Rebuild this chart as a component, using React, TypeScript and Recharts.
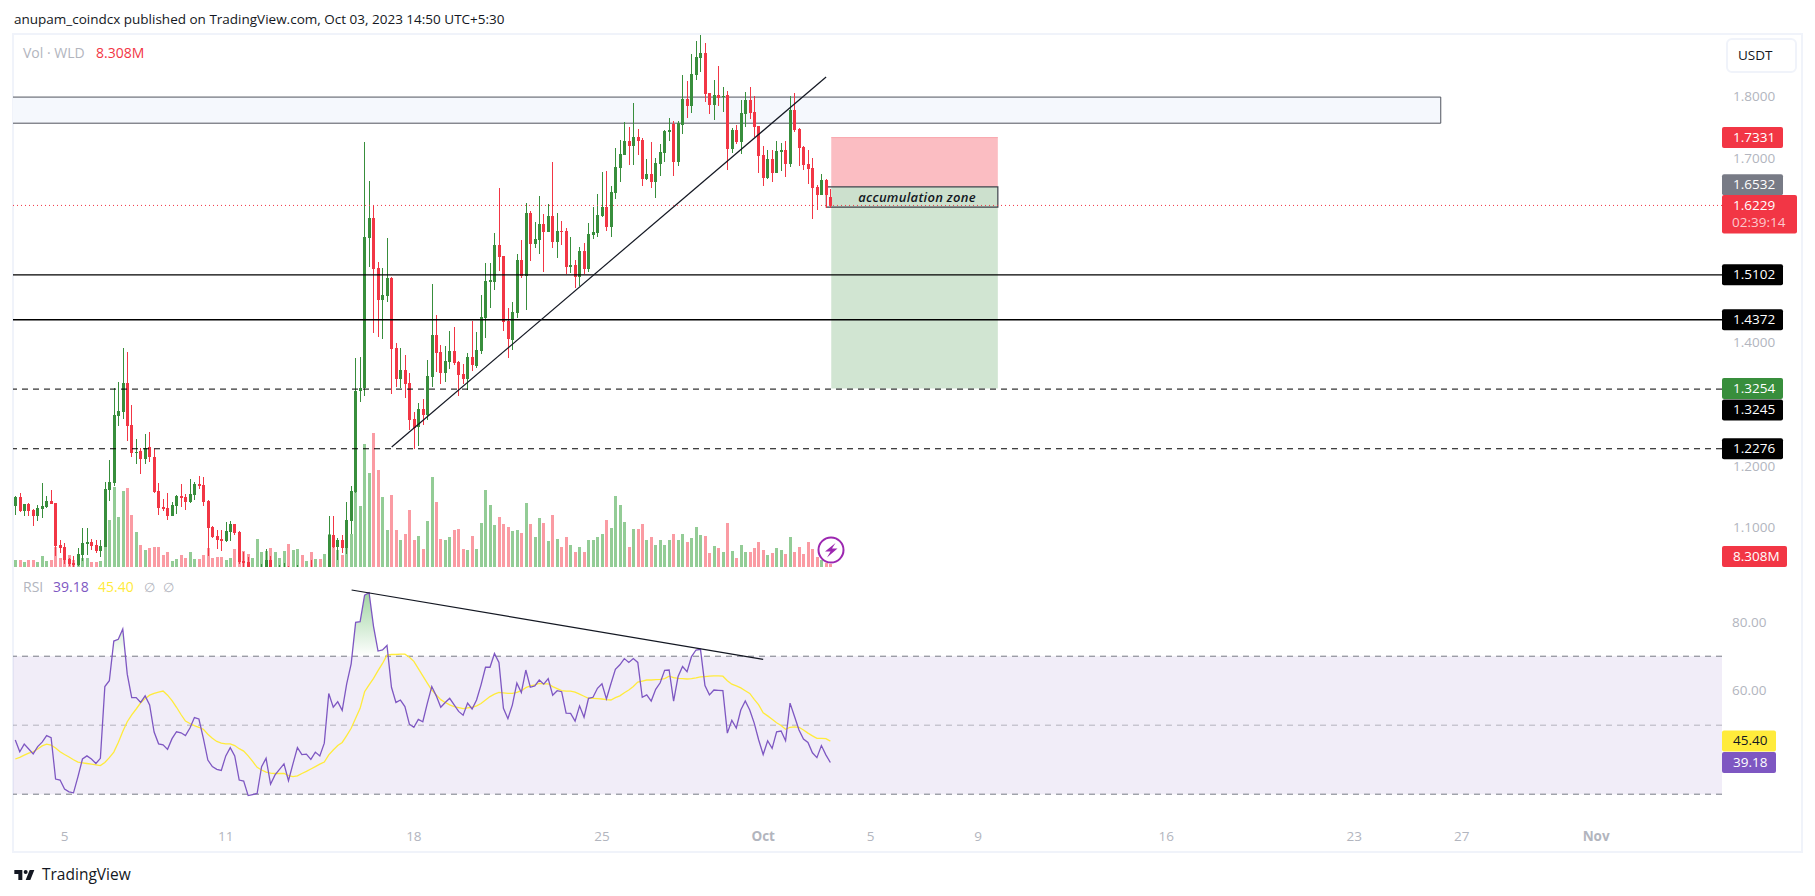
import {
  Area,
  Bar,
  ComposedChart,
  Line,
  ReferenceArea,
  ReferenceLine,
  XAxis,
  YAxis,
} from "recharts";

// 4h candles, WLD/USDT
const opens = [
  1.1347, 1.1487, 1.1265, 1.1379, 1.1282, 1.119, 1.1298, 1.1331, 1.1429, 1.1395, 1.0713, 1.0675, 1.0488, 1.0423, 1.0391, 1.0553, 1.0732, 1.0764, 1.0713, 1.0618,
  1.0686, 1.1609, 1.1716, 1.2815, 1.288, 1.3345, 1.2663, 1.2214, 1.2236, 1.2117, 1.2301, 1.2144, 1.1592, 1.1333, 1.1316, 1.119, 1.1352, 1.1509, 1.1493, 1.1413,
  1.1526, 1.1705, 1.1688, 1.1429, 1.1007, 1.0861, 1.0812, 1.078, 1.0926, 1.1055, 1.0926, 1.0455, 1.0439, 1.02, 1.022, 1.025, 1.029, 1.0471, 1.02, 1.022,
  1.024, 1.03, 1.02, 1.022, 1.03, 1.02, 1.034, 1.02, 1.03, 1.02, 1.034, 1.0877, 1.0682, 1.0796, 1.0666, 1.1104, 1.1574, 1.3207, 1.3261, 1.5707,
  1.6026, 1.5214, 1.47, 1.4765, 1.5052, 1.3916, 1.3413, 1.3559, 1.3348, 1.2764, 1.2639, 1.2926, 1.2823, 1.3445, 1.4127, 1.3851, 1.351, 1.3689, 1.3867, 1.3689,
  1.3494, 1.3413, 1.377, 1.3624, 1.3867, 1.4403, 1.4987, 1.4987, 1.5588, 1.5409, 1.4354, 1.4051, 1.4487, 1.5345, 1.5085, 1.6108, 1.5605, 1.567, 1.5929, 1.5799,
  1.6059, 1.5637, 1.5816, 1.5816, 1.5231, 1.5264, 1.5069, 1.5491, 1.5199, 1.5751, 1.5783, 1.6059, 1.6205, 1.588, 1.6432, 1.6838, 1.7049, 1.7276, 1.7195, 1.7341,
  1.7292, 1.666, 1.6741, 1.6611, 1.6903, 1.7082, 1.7423, 1.7548, 1.6937, 1.7537, 1.7959, 1.7846, 1.8349, 1.8625, 1.8706, 1.8056, 1.7862, 1.8024, 1.7992, 1.8024,
  1.7148, 1.7456, 1.7261, 1.7716, 1.7943, 1.7748, 1.7521, 1.705, 1.6677, 1.6985, 1.6758, 1.7099, 1.7131, 1.6904, 1.7781, 1.7472, 1.718, 1.6904, 1.6839, 1.6531,
  1.6401, 1.6645, 1.6369,
];
const highs = [
  1.1509, 1.1553, 1.1379, 1.139, 1.1298, 1.1363, 1.1716, 1.1509, 1.1607, 1.1395, 1.0795, 1.0746, 1.0499, 1.0537, 1.0661, 1.0991, 1.0991, 1.0813, 1.0795, 1.0795,
  1.1733, 1.2095, 1.3258, 1.3361, 1.3908, 1.3843, 1.2988, 1.2436, 1.2295, 1.2517, 1.255, 1.2274, 1.1716, 1.1463, 1.1553, 1.1406, 1.1525, 1.1704, 1.1542, 1.1786,
  1.1737, 1.1835, 1.1818, 1.1445, 1.1023, 1.0958, 1.0958, 1.1088, 1.1104, 1.1055, 1.0942, 1.0601, 1.052, 1.032, 1.034, 1.0406, 1.065, 1.0536, 1.033, 1.039,
  1.0423, 1.0374, 1.033, 1.039, 1.034, 1.03, 1.0471, 1.033, 1.034, 1.032, 1.1185, 1.1185, 1.0828, 1.0877, 1.1412, 1.1673, 1.3755, 1.3764, 1.7254, 1.6626,
  1.6231, 1.5312, 1.5209, 1.5701, 1.5068, 1.3992, 1.391, 1.3802, 1.351, 1.2877, 1.3023, 1.3083, 1.3721, 1.4955, 1.4451, 1.3965, 1.3948, 1.4192, 1.4262, 1.3705,
  1.3656, 1.3829, 1.4354, 1.4176, 1.4776, 1.5295, 1.5295, 1.5782, 1.6513, 1.5409, 1.4565, 1.466, 1.5443, 1.567, 1.627, 1.614, 1.5962, 1.6384, 1.6092, 1.6254,
  1.6935, 1.6108, 1.5978, 1.5864, 1.5718, 1.5345, 1.5556, 1.5621, 1.5946, 1.6205, 1.6416, 1.6773, 1.6789, 1.6546, 1.7163, 1.7293, 1.7585, 1.7504, 1.7893, 1.7471,
  1.7325, 1.6984, 1.726, 1.7, 1.7228, 1.746, 1.7651, 1.7602, 1.7602, 1.8349, 1.8251, 1.8689, 1.89, 1.8998, 1.8868, 1.8056, 1.8267, 1.8495, 1.8154, 1.8089,
  1.7488, 1.7537, 1.7943, 1.8073, 1.8154, 1.8008, 1.7521, 1.7196, 1.7131, 1.7131, 1.7277, 1.7245, 1.7277, 1.8008, 1.8056, 1.7488, 1.7196, 1.7131, 1.7002, 1.6563,
  1.6742, 1.6661, 1.6498,
];
const lows = [
  1.12, 1.1238, 1.119, 1.1173, 1.1027, 1.1108, 1.1141, 1.1309, 1.1379, 1.0526, 1.0578, 1.0404, 1.0364, 1.0364, 1.0364, 1.0461, 1.0553, 1.0634, 1.0591, 1.0526,
  1.0675, 1.143, 1.1662, 1.2647, 1.2755, 1.2393, 1.2138, 1.203, 1.1868, 1.203, 1.2068, 1.1565, 1.12, 1.1273, 1.1122, 1.119, 1.1217, 1.1338, 1.1283, 1.1396,
  1.1445, 1.1623, 1.1347, 1.0536, 1.0828, 1.065, 1.0617, 1.0763, 1.078, 1.0877, 1.0406, 1.036, 1.0357, 1.012, 1.015, 1.018, 1.02, 1.018, 1.015, 1.016,
  1.018, 1.02, 1.012, 1.015, 1.016, 1.012, 1.02, 1.014, 1.016, 1.012, 1.03, 1.0666, 1.0471, 1.0585, 1.0569, 1.0891, 1.1555, 1.3029, 1.3126, 1.5236,
  1.4154, 1.41, 1.4057, 1.4668, 1.3169, 1.3272, 1.3267, 1.3104, 1.2585, 1.2271, 1.2325, 1.2666, 1.2747, 1.3283, 1.3526, 1.3332, 1.3364, 1.3575, 1.364, 1.3137,
  1.3332, 1.3234, 1.3542, 1.3591, 1.3818, 1.4078, 1.4565, 1.4857, 1.5166, 1.4192, 1.376, 1.388, 1.44, 1.5053, 1.4531, 1.5329, 1.554, 1.5442, 1.515, 1.5799,
  1.554, 1.5377, 1.5588, 1.5118, 1.5134, 1.489, 1.4923, 1.5118, 1.515, 1.5686, 1.5718, 1.6043, 1.5816, 1.5718, 1.6335, 1.6611, 1.7049, 1.6887, 1.6887, 1.7049,
  1.6546, 1.6643, 1.6513, 1.6351, 1.6708, 1.6935, 1.7277, 1.6709, 1.6872, 1.7391, 1.7651, 1.7732, 1.8267, 1.8397, 1.7911, 1.7716, 1.7618, 1.7846, 1.7748, 1.6807,
  1.7083, 1.7229, 1.7066, 1.7505, 1.7635, 1.7342, 1.6758, 1.6547, 1.6661, 1.6612, 1.6758, 1.679, 1.6693, 1.6855, 1.7423, 1.6872, 1.6807, 1.658, 1.6012, 1.6158,
  1.6401, 1.619, 1.619,
];
const closes = [
  1.1487, 1.1265, 1.1379, 1.126, 1.119, 1.1314, 1.1347, 1.1423, 1.1379, 1.0697, 1.0664, 1.047, 1.0402, 1.0391, 1.0569, 1.0742, 1.0764, 1.0697, 1.0622, 1.0697,
  1.1625, 1.1733, 1.2825, 1.289, 1.3345, 1.2647, 1.2214, 1.2225, 1.2112, 1.229, 1.2134, 1.1576, 1.1322, 1.13, 1.1187, 1.1363, 1.1509, 1.1477, 1.1413, 1.1542,
  1.1705, 1.1672, 1.1413, 1.0991, 1.0844, 1.0796, 1.078, 1.0942, 1.1055, 1.0909, 1.0439, 1.0423, 1.0357, 1.028, 1.033, 1.033, 1.0471, 1.028, 1.03, 1.033,
  1.034, 1.024, 1.03, 1.033, 1.022, 1.024, 1.024, 1.03, 1.024, 1.03, 1.0877, 1.0682, 1.0796, 1.0666, 1.112, 1.1587, 1.3215, 1.3261, 1.5717, 1.6026,
  1.5198, 1.47, 1.4776, 1.5052, 1.3905, 1.3418, 1.3559, 1.3332, 1.2747, 1.2612, 1.2926, 1.2828, 1.3461, 1.4127, 1.3835, 1.351, 1.3705, 1.3867, 1.3672, 1.3478,
  1.3413, 1.377, 1.364, 1.3883, 1.4419, 1.5003, 1.5019, 1.5588, 1.5393, 1.4338, 1.4062, 1.4498, 1.5343, 1.5085, 1.6108, 1.5605, 1.5686, 1.5929, 1.5799, 1.6059,
  1.5637, 1.5816, 1.5799, 1.5231, 1.5264, 1.5069, 1.5491, 1.5199, 1.5767, 1.5799, 1.6075, 1.6205, 1.588, 1.6449, 1.6854, 1.7065, 1.7276, 1.7195, 1.7341, 1.7276,
  1.666, 1.6741, 1.6611, 1.6919, 1.7098, 1.7439, 1.7456, 1.6937, 1.757, 1.7959, 1.7846, 1.8365, 1.8641, 1.8706, 1.804, 1.7862, 1.8024, 1.7975, 1.8008, 1.7148,
  1.7456, 1.7261, 1.7732, 1.7943, 1.7732, 1.7505, 1.7034, 1.6677, 1.6985, 1.6758, 1.7115, 1.7131, 1.6904, 1.7781, 1.7456, 1.7164, 1.6888, 1.6823, 1.6515, 1.6401,
  1.6645, 1.6401, 1.6229,
];
// volume in millions
const volumes = [
  20, 20, 15, 20, 20, 15, 31, 18, 20, 56, 26, 28, 34, 20, 6, 25, 26, 15, 15, 18,
  67, 131, 222, 139, 211, 220, 145, 98, 62, 48, 54, 56, 56, 34, 42, 18, 23, 34, 25, 42,
  22, 22, 33, 53, 25, 28, 28, 19, 25, 50, 61, 44, 36, 25, 78, 42, 44, 53, 42, 25,
  44, 64, 47, 50, 33, 17, 42, 22, 22, 36, 91, 61, 47, 33, 97, 91, 300, 170, 340, 260,
  370, 270, 195, 103, 200, 103, 76, 91, 158, 75, 86, 50, 128, 250, 180, 78, 75, 83, 103, 106,
  51, 48, 86, 51, 123, 214, 172, 117, 139, 120, 111, 100, 103, 93, 178, 120, 83, 137, 123, 73,
  143, 77, 56, 82, 62, 42, 56, 42, 74, 76, 84, 92, 129, 107, 196, 171, 124, 56, 104, 104,
  118, 76, 84, 62, 74, 62, 76, 92, 74, 92, 68, 79, 110, 90, 87, 40, 59, 54, 42, 121,
  45, 26, 62, 42, 42, 54, 68, 48, 34, 40, 54, 46, 37, 84, 42, 56, 37, 68, 50, 28,
  20, 12, 8.308,
];
const rsiValues = [
  45.7, 42.3, 44.5, 43.1, 41.7, 43.8, 45.1, 47.0, 46.4, 34.4, 34.1, 31.5, 30.7, 30.4, 35.1, 40.2, 41.1, 40.2, 38.9, 40.4,
  61.2, 62.9, 74.4, 74.9, 77.9, 64.8, 58.0, 58.0, 56.6, 58.5, 55.9, 48.0, 44.6, 44.3, 43.0, 46.1, 48.1, 47.8, 47.0, 49.2,
  52.2, 51.8, 46.2, 39.9, 38.0, 37.2, 36.9, 41.1, 43.5, 41.1, 34.1, 33.8, 29.6, 29.9, 30.2, 38.0, 40.4, 32.9, 35.6, 37.2,
  38.8, 33.9, 38.8, 43.5, 41.5, 41.6, 40.1, 42.2, 41.1, 44.8, 59.2, 55.2, 56.8, 54.3, 62.0, 67.8, 79.8, 80.0, 87.7, 88.4,
  78.6, 71.5, 71.8, 73.1, 61.0, 56.6, 57.3, 55.4, 50.3, 49.4, 51.7, 51.0, 56.3, 61.2, 58.5, 55.2, 56.6, 57.8, 55.9, 54.0,
  52.9, 56.4, 54.7, 57.3, 61.7, 66.8, 66.8, 70.8, 68.2, 54.9, 51.9, 55.9, 62.2, 59.5, 66.0, 61.0, 61.4, 63.1, 61.9, 63.5,
  58.7, 60.0, 59.7, 53.5, 53.4, 51.2, 55.6, 52.3, 57.8, 58.1, 60.7, 62.0, 57.6, 62.0, 66.2, 67.5, 69.3, 68.2, 69.3, 68.2,
  58.1, 58.8, 57.0, 60.4, 62.3, 65.9, 66.0, 57.0, 64.1, 67.0, 65.5, 69.9, 71.8, 72.0, 61.5, 58.8, 60.2, 60.1, 60.0, 47.7,
  51.4, 49.2, 54.4, 57.0, 54.4, 50.6, 45.7, 41.5, 45.5, 43.3, 48.1, 48.3, 45.5, 56.4, 52.5, 48.6, 46.0, 45.0, 42.0, 40.6,
  44.1, 41.4, 39.18,
];
const rsiMaValues = [
  40.2, 40.7, 41.3, 41.9, 42.3, 43.1, 44.0, 44.5, 44.2, 43.4, 42.3, 41.5, 40.8, 40.0, 39.3, 39.1, 38.9, 38.7, 38.5, 38.3,
  39.2, 40.6, 42.2, 45.0, 48.2, 51.0, 53.0, 54.7, 56.5, 57.7, 58.7, 59.2, 59.6, 59.9, 58.7, 57.1, 55.2, 53.1, 51.2, 50.5,
  49.9, 49.4, 48.8, 47.4, 46.2, 45.3, 44.8, 44.6, 44.6, 44.1, 43.2, 42.5, 41.1, 39.5, 37.8, 37.0, 36.4, 36.1, 36.0, 36.0,
  36.0, 35.4, 35.1, 35.3, 36.0, 36.6, 37.3, 38.0, 38.7, 39.3, 41.4, 42.8, 44.1, 45.0, 47.0, 49.1, 52.0, 54.9, 59.7, 61.7,
  63.6, 65.8, 67.9, 70.3, 70.5, 70.5, 70.6, 70.6, 69.7, 68.5, 66.4, 64.3, 62.2, 60.2, 58.8, 57.4, 56.6, 55.9, 55.4, 55.1,
  54.8, 55.0, 55.2, 55.6, 56.3, 57.3, 58.3, 59.0, 59.5, 59.4, 59.2, 59.2, 59.5, 60.0, 60.9, 61.4, 61.7, 62.1, 62.0, 62.0,
  61.2, 60.6, 60.0, 59.9, 59.9, 59.6, 59.0, 58.4, 57.8, 57.8, 57.7, 57.6, 57.4, 57.3, 58.0, 58.5, 59.4, 60.2, 61.2, 62.5,
  62.8, 63.1, 63.1, 63.2, 63.3, 63.5, 64.2, 63.8, 63.6, 63.5, 63.4, 63.5, 63.7, 64.0, 64.1, 64.2, 64.3, 64.3, 64.2, 62.9,
  61.9, 61.4, 60.8, 60.0, 59.2, 57.5, 55.9, 53.6, 52.7, 51.7, 50.7, 49.9, 48.8, 49.4, 49.5, 49.4, 48.6, 47.7, 46.9, 46.2,
  46.2, 46.1, 45.4,
];

const dateTicks = [11, 47, 89, 131, 167, 191, 215, 257, 299, 323, 353];
const dateLabels = ["5", "11", "18", "25", "Oct", "5", "9", "16", "23", "27", "Nov"];
const priceTicks = [1.8, 1.7, 1.4, 1.2, 1.1];
const rsiTicks = [80, 60];

const candles = opens.map((open, i) => ({
  i,
  open,
  high: highs[i],
  low: lows[i],
  close: closes[i],
  volume: volumes[i],
  rsi: rsiValues[i],
  rsiMa: rsiMaValues[i],
}));

const FONT = '"Open Sans", sans-serif';
const xDomain = [-0.51, 381.1];
const GREEN = "#388e3c";
const RED = "#f23645";
const AXIS_TEXT = "#b2b5be";
const TICK_FONT = 13.5;

const Candle = (props: any) => {
  const { x, y, width, height, payload } = props;
  const range = payload.high - payload.low;
  const k = range > 0 ? height / range : 0;
  const color = payload.close >= payload.open ? GREEN : RED;
  const top = Math.round(y + (payload.high - Math.max(payload.open, payload.close)) * k);
  const bodyH = Math.max(Math.round(Math.abs(payload.open - payload.close) * k), 1);
  const cx = Math.floor(x + width / 2);
  return (
    <g>
      <rect x={cx} y={Math.round(y)} width={1} height={Math.round(height)} fill={color} />
      <rect x={cx - 1} y={top} width={3} height={bodyH} fill={color} />
    </g>
  );
};

const VolumeBar = (props: any) => {
  const { x, y, width, height, payload } = props;
  const cx = Math.floor(x + width / 2);
  return (
    <rect
      x={cx - 1}
      y={Math.round(y)}
      width={3}
      height={Math.round(height)}
      fill={payload.close >= payload.open ? "#93cc96" : "#fa9ba3"}
    />
  );
};

const Badge = ({ viewBox, text, sub, fill, color = "#fff", w = 61, dy = 0 }: any) => {
  const x = viewBox.x + viewBox.width;
  const h = sub ? 38.5 : 21;
  const cy = viewBox.y + dy;
  const top = sub ? cy - 10.5 : cy - h / 2;
  return (
    <g fontFamily={FONT} fontSize={TICK_FONT}>
      <rect x={x} y={top} width={w} height={h} rx={2} fill={fill} />
      <text x={x + 11} y={cy + 0.5} fill={color} dominantBaseline="middle">
        {text}
      </text>
      {sub && (
        <text x={x + 10} y={cy + 18} fill="#fcc8cd" dominantBaseline="middle">
          {sub}
        </text>
      )}
    </g>
  );
};

const ZoneLabel = ({ viewBox }: any) => (
  <text
    x={viewBox.x + viewBox.width / 2 + 5}
    y={viewBox.y + viewBox.height / 2 + 2}
    fill="#131722"
    fontFamily={FONT}
    fontSize={13}
    fontStyle="italic"
    fontWeight={600}
    letterSpacing={0.3}
    textAnchor="middle"
    dominantBaseline="middle"
  >
    accumulation zone
  </text>
);

const DateTick = ({ x, y, payload }: any) => {
  const label = dateLabels[dateTicks.indexOf(payload.value)];
  return (
    <text
      x={x}
      y={y + 15}
      fill={AXIS_TEXT}
      fontFamily={FONT}
      fontSize={TICK_FONT}
      fontWeight={label === "Oct" || label === "Nov" ? 700 : 400}
      textAnchor="middle"
      dominantBaseline="middle"
    >
      {label}
    </text>
  );
};

const label = (left: number, top: number, size = 13.5): React.CSSProperties => ({
  position: "absolute",
  left,
  top,
  fontFamily: FONT,
  fontSize: size,
  lineHeight: "18px",
  whiteSpace: "nowrap",
});

const priceAxes = { xAxisId: "price", yAxisId: "price" };

export default function App() {
  return (
    <div style={{ position: "absolute", left: 0, top: 0, width: 1815, height: 896, background: "#fff", overflow: "hidden" }}>
      <div style={{ ...label(14, 10), color: "#131722" }}>
        anupam_coindcx published on TradingView.com, Oct 03, 2023 14:50 UTC+5:30
      </div>
      <div
        style={{
          position: "absolute",
          left: 12,
          top: 33,
          width: 1787,
          height: 816,
          border: "2px solid #f0f3fa",
        }}
      />

      <div style={{ position: "absolute", left: 0, top: 0 }}>
        <ComposedChart
          width={1815}
          height={568}
          data={candles}
          margin={{ top: 34, right: 13, bottom: 1, left: 13 }}
        >
          <XAxis xAxisId="vol" dataKey="i" type="number" domain={xDomain} allowDataOverflow hide />
          <XAxis xAxisId="price" dataKey="i" type="number" domain={xDomain} allowDataOverflow hide />
          <YAxis yAxisId="vol" domain={[0, 1477]} allowDataOverflow hide />
          <YAxis
            yAxisId="price"
            orientation="right"
            width={80}
            domain={[1.0355, 1.9014]}
            allowDataOverflow
            ticks={priceTicks}
            tickFormatter={(v: number) => v.toFixed(4)}
            tick={{ fill: AXIS_TEXT, fontSize: TICK_FONT, fontFamily: FONT }}
            tickLine={false}
            axisLine={false}
            tickSize={0}
            tickMargin={11}
          />

          <ReferenceArea {...priceAxes} x1={-4} x2={318.3} y1={1.7989} y2={1.7565} fill="#f5f8fd" fillOpacity={1} stroke="#50535e" strokeWidth={1} ifOverflow="hidden" />
          <ReferenceArea {...priceAxes} x1={182.2} x2={219.4} y1={1.7331} y2={1.6532} fill="#f23645" fillOpacity={0.33} stroke="none" />
          <ReferenceArea {...priceAxes} x1={182.2} x2={219.4} y1={1.6532} y2={1.3254} fill="#388e3c" fillOpacity={0.23} stroke="none" />

          <ReferenceLine {...priceAxes} y={1.6229} stroke={RED} strokeDasharray="1 3" />

          <Bar xAxisId="vol" yAxisId="vol" dataKey="volume" barSize={3} shape={VolumeBar} isAnimationActive={false} />
          <Bar {...priceAxes} dataKey={(d: any) => [d.low, d.high]} barSize={3} shape={Candle} isAnimationActive={false} />

          <ReferenceLine {...priceAxes} segment={[{ x: 182.2, y: 1.7331 }, { x: 219.4, y: 1.7331 }]} stroke="#f9a5ad" isFront />
          <ReferenceLine {...priceAxes} y={1.5102} stroke="#000" strokeWidth={1.3} isFront label={<Badge text="1.5102" fill="#000" />} />
          <ReferenceLine {...priceAxes} y={1.4372} stroke="#000" strokeWidth={1.3} isFront label={<Badge text="1.4372" fill="#000" />} />
          <ReferenceLine {...priceAxes} y={1.3254} stroke="none" isFront label={<Badge text="1.3254" fill={GREEN} />} />
          <ReferenceLine {...priceAxes} y={1.3245} stroke="#000" strokeDasharray="6 5" strokeWidth={1} isFront label={<Badge text="1.3245" fill="#000" dy={21} />} />
          <ReferenceLine {...priceAxes} y={1.2276} stroke="#000" strokeDasharray="6 5" strokeWidth={1} isFront label={<Badge text="1.2276" fill="#000" />} />
          <ReferenceLine {...priceAxes} segment={[{ x: 84.05, y: 1.2305 }, { x: 181.05, y: 1.8315 }]} stroke="#131722" strokeWidth={1.2} isFront />

          <ReferenceArea
            {...priceAxes}
            x1={181.1}
            x2={219.4}
            y1={1.6532}
            y2={1.62}
            fill="#000"
            fillOpacity={0.02}
            stroke="#3f424b"
            strokeWidth={1.2}
            isFront
            label={<ZoneLabel />}
          />

          <ReferenceLine {...priceAxes} y={1.7331} stroke="none" isFront label={<Badge text="1.7331" fill={RED} />} />
          <ReferenceLine {...priceAxes} y={1.6532} stroke="none" isFront label={<Badge text="1.6532" fill="#787b86" dy={-2} />} />
          <ReferenceLine {...priceAxes} y={1.6229} stroke="none" isFront label={<Badge text="1.6229" sub="02:39:14" fill={RED} w={75} />} />
          <ReferenceLine xAxisId="vol" yAxisId="vol" y={8.308} stroke="none" isFront label={<Badge text="8.308M" fill={RED} w={65} dy={-7.5} />} />
        </ComposedChart>
      </div>

      <div style={{ position: "absolute", left: 0, top: 568 }}>
        <ComposedChart width={1815} height={284} data={candles} margin={{ top: 0, right: 13, bottom: 0, left: 13 }}>
          <defs>
            <linearGradient id="overbought" gradientUnits="userSpaceOnUse" x1="0" y1="22" x2="0" y2="88.3">
              <stop offset="0" stopColor="#4caf50" stopOpacity={0.55} />
              <stop offset="1" stopColor="#4caf50" stopOpacity={0} />
            </linearGradient>
          </defs>
          <XAxis
            dataKey="i"
            type="number"
            domain={xDomain}
            allowDataOverflow
            ticks={dateTicks}
            interval={0}
            height={32}
            tick={<DateTick />}
            tickLine={false}
            axisLine={false}
            tickSize={0}
          />
          <YAxis
            orientation="right"
            width={80}
            domain={[22.52, 95.57]}
            allowDataOverflow
            ticks={rsiTicks}
            tickFormatter={(v: number) => v.toFixed(2)}
            tick={{ fill: AXIS_TEXT, fontSize: TICK_FONT, fontFamily: FONT }}
            tickLine={false}
            axisLine={false}
            tickSize={0}
            tickMargin={10}
          />
          <ReferenceArea y1={30} y2={70} x1={xDomain[0]} x2={xDomain[1]} fill="#7e57c2" fillOpacity={0.11} stroke="none" />
          <ReferenceLine y={70} stroke="#787b86" strokeDasharray="6 5" />
          <ReferenceLine y={50} stroke="#787b86" strokeOpacity={0.5} strokeDasharray="6 5" />
          <ReferenceLine y={30} stroke="#787b86" strokeDasharray="6 5" />
          <Area dataKey="rsi" baseValue={70} stroke="none" fill="url(#overbought)" fillOpacity={1} dot={false} activeDot={false} isAnimationActive={false} />
          <Line dataKey="rsiMa" stroke="#ffeb3b" strokeWidth={1.3} dot={false} activeDot={false} isAnimationActive={false} />
          <Line dataKey="rsi" stroke="#7e57c2" strokeWidth={1.3} dot={false} activeDot={false} isAnimationActive={false} />
          <ReferenceLine segment={[{ x: 75.1, y: 89.2 }, { x: 167, y: 69.1 }]} stroke="#131722" strokeWidth={1.2} isFront />
          <ReferenceLine y={45.4} stroke="none" isFront label={<Badge text="45.40" fill="#ffeb3b" color="#131722" w={54} />} />
          <ReferenceLine y={39.18} stroke="none" isFront label={<Badge text="39.18" fill="#7e57c2" w={54} />} />
        </ComposedChart>
      </div>

      <div style={{ ...label(23, 44, 14), color: AXIS_TEXT }}>Vol · WLD</div>
      <div style={{ ...label(96, 44, 14), color: RED }}>8.308M</div>
      <div style={{ ...label(23, 578, 14), color: AXIS_TEXT }}>RSI</div>
      <div style={{ ...label(53, 578, 14), color: "#7e57c2" }}>39.18</div>
      <div style={{ ...label(98, 578, 14), color: "#ffeb3b" }}>45.40</div>
      <div style={{ ...label(144, 578, 13), color: AXIS_TEXT }}>∅</div>
      <div style={{ ...label(163, 578, 13), color: AXIS_TEXT }}>∅</div>

      <div
        style={{
          position: "absolute",
          left: 1726,
          top: 38,
          width: 67,
          height: 31,
          border: "2px solid #f0f3fa",
          borderRadius: 6,
          background: "#fff",
        }}
      >
        <span style={{ ...label(10, 6), color: "#131722" }}>USDT</span>
      </div>

      <svg style={{ position: "absolute", left: 817, top: 536 }} width={28} height={28} viewBox="0 0 28 28">
        <circle cx={14} cy={14} r={12.5} fill="#fff" stroke="#9c27b0" strokeWidth={2} />
        <path d="M18.5 7 L8 15.5 L13.5 15.5 L10 21.5 L20.5 12.5 L15 12.5 Z" fill="#9c27b0" />
      </svg>

      <svg style={{ position: "absolute", left: 13, top: 867 }} width={24} height={14} viewBox="0 2 36 20">
        <path d="M14 6H2v6h6v9h6V6zm12 15h-7l6-15h7l-6 15zm-7-9a3 3 0 100-6 3 3 0 000 6z" fill="#131722" />
      </svg>
      <div style={{ ...label(42, 865, 15.5), color: "#131722" }}>TradingView</div>
    </div>
  );
}
